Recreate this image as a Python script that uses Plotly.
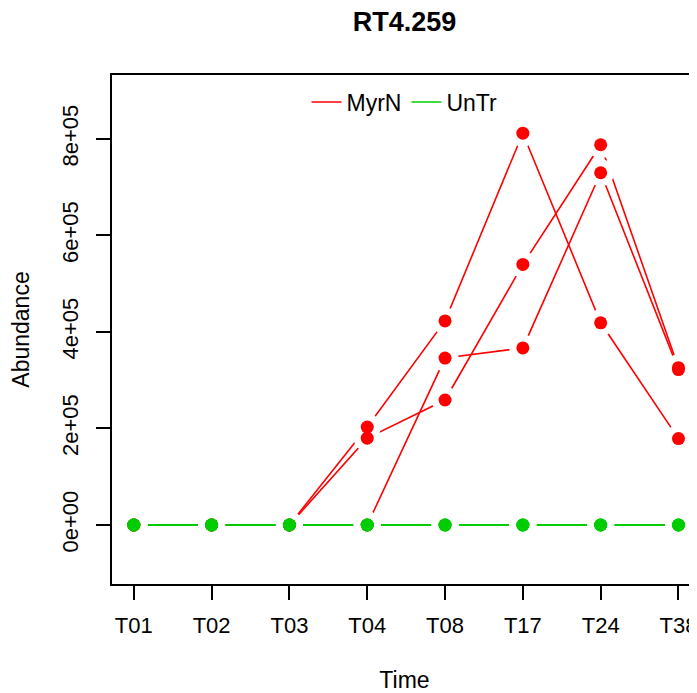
import plotly.graph_objects as go

times = ["T01", "T02", "T03", "T04", "T08", "T17", "T24", "T38"]
myrn_rep1 = [0, 0, 0, 203000, 423000, 812000, 419000, 179000]
myrn_rep2 = [0, 0, 0, 180000, 259000, 540000, 788000, 326000]
myrn_rep3 = [0, 0, 0, 0, 346000, 367000, 730000, 322000]
untr_rep1 = [0, 0, 0, 0, 0, 0, 0, 0]
untr_rep2 = [0, 0, 0, 0, 0, 0, 0, 0]
untr_rep3 = [0, 0, 0, 0, 0, 0, 0, 0]
ytick_vals = [0, 200000, 400000, 600000, 800000]
ytick_text = ["0e+00", "2e+05", "4e+05", "6e+05", "8e+05"]

RED = "#FF0000"
GREEN = "#00CD00"
FONT = "Liberation Sans, Arial, sans-serif"

series = [
    (myrn_rep1, RED), (myrn_rep2, RED), (myrn_rep3, RED),
    (untr_rep1, GREEN), (untr_rep2, GREEN), (untr_rep3, GREEN),
]

fig = go.Figure()
# 1) connecting lines
for vals, col in series:
    fig.add_trace(go.Scatter(
        x=times, y=vals, mode="lines",
        line=dict(color=col, width=1.6),
        showlegend=False, hoverinfo="skip"))
# 2) white masks around points to imitate R's type="b" gaps
for vals, col in series:
    fig.add_trace(go.Scatter(
        x=times, y=vals, mode="markers",
        marker=dict(color="white", size=27, line=dict(width=0)),
        showlegend=False, hoverinfo="skip", cliponaxis=False))
# 3) coloured points on top
for vals, col in series:
    fig.add_trace(go.Scatter(
        x=times, y=vals, mode="markers",
        marker=dict(color=col, size=13, line=dict(width=0)),
        showlegend=False, cliponaxis=False))
# legend entries (line only)
fig.add_trace(go.Scatter(x=[None], y=[None], mode="lines", name="MyrN",
                         line=dict(color=RED, width=1.6)))
fig.add_trace(go.Scatter(x=[None], y=[None], mode="lines", name="UnTr",
                         line=dict(color=GREEN, width=1.6)))

W, H = 689, 685
fig.update_layout(
    width=W, height=H,
    margin=dict(l=104, r=0, t=67, b=109),
    paper_bgcolor="white", plot_bgcolor="white",
    font=dict(family=FONT, size=22, color="black"),
    title=dict(text="<b>RT4.259</b>", x=0.5, xref="paper", xanchor="center",
               y=1 - 14 / H, yref="container", yanchor="middle",
               font=dict(size=27, family=FONT, color="black")),
    legend=dict(orientation="h", x=0.5, xanchor="center", y=0.947,
                yanchor="middle", bgcolor="rgba(0,0,0,0)",
                font=dict(size=23, family=FONT)),
    showlegend=True,
)
fig.update_xaxes(
    type="category", range=[-0.28, 7.238],
    showgrid=False, zeroline=False,
    showline=True, linecolor="black", linewidth=1.5, mirror=True,
    ticks="outside", ticklen=14, tickwidth=1.5, tickcolor="black",
    tickfont=dict(size=22), ticklabelstandoff=7,
    title=dict(text="Time", standoff=38, font=dict(size=23)),
)
fig.update_yaxes(
    range=[-122300, 932600],
    tickvals=ytick_vals, ticktext=ytick_text, tickangle=-90,
    showgrid=False, zeroline=False,
    showline=True, linecolor="black", linewidth=1.5, mirror=False,
    ticks="outside", ticklen=14, tickwidth=1.5, tickcolor="black",
    tickfont=dict(size=22), ticklabelstandoff=9,
    title=dict(text="Abundance", standoff=26, font=dict(size=23)),
)

fig.write_html("out.html")
